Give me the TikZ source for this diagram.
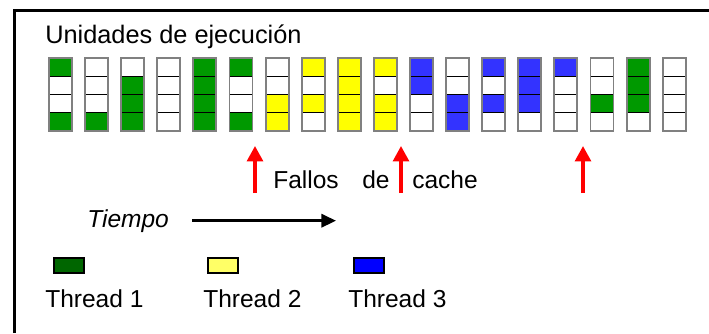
\documentclass[tikz,border=0pt]{standalone}
\usepackage{fontspec}
\setmainfont{Liberation Sans}
\usetikzlibrary{arrows.meta}
% cell fills
\definecolor{cG}{HTML}{009900}
\definecolor{cY}{HTML}{FFFF00}
\definecolor{cB}{HTML}{3333FF}
\definecolor{cW}{HTML}{FFFFFF}
% legend fills
\definecolor{lgreen}{HTML}{006600}
\definecolor{lyellow}{HTML}{FFFF66}
\definecolor{lblue}{HTML}{0000FF}
\definecolor{colframe}{HTML}{808080}
\definecolor{missred}{HTML}{FF0000}

\begin{document}
\begin{tikzpicture}[x=0.75pt,y=-0.75pt,
  lbl/.style={inner sep=0pt, anchor=base west, font=\fontsize{18.4}{22}\selectfont},
  cell/.style={draw=black, line width=1.1pt, minimum width=17.25pt,
    minimum height=13.69pt, inner sep=0pt, outer sep=0pt, anchor=north west},
  colbox/.style={draw=colframe, line width=1.4pt},
  missarrow/.style={draw=missred, line width=2.6pt,
    -{Triangle[length=11.5pt,width=11.8pt]}},
  timearrow/.style={draw=black, line width=1.9pt,
    -{Triangle[length=11pt,width=10pt]}},
  legbox/.style={draw=black, line width=0.8pt, minimum width=22.5pt,
    minimum height=11.25pt, inner sep=0pt}]

\useasboundingbox (0,0) rectangle (709,333);

% outer frame (left and top edges)
\draw[line width=2.25pt] (14,333) -- (14,10) -- (709,10);

\node[lbl, font=\fontsize{19}{23}\selectfont] (title) at (45,43) {Unidades de ejecución};

% execution units: one column per cycle, four slots each
\foreach \i/\a/\b/\c/\d in {
  0/G/W/W/G, 1/W/W/W/G, 2/W/G/G/G, 3/W/W/W/W, 4/G/G/G/G, 5/G/W/W/G,
  6/W/W/Y/Y, 7/Y/W/Y/W, 8/Y/Y/Y/Y, 9/Y/W/Y/Y, 10/B/B/W/W, 11/W/W/B/B,
  12/B/W/B/W, 13/B/B/B/W, 14/B/W/W/W, 15/W/W/G/W, 16/G/G/G/W, 17/W/W/W/W}{
  \foreach \j/\k in {1/\a,2/\b,3/\c,4/\d}{
    \node[cell, fill=c\k] (c-\i-\j) at ({49+36.1*\i},{58+18.25*(\j-1)}) {};
  }
  \draw[colbox] (c-\i-1.north west) rectangle (c-\i-4.south east);
}

% cache misses
\coordinate (m1b) at (255,193);
\coordinate (m1t) at (255,146);
\coordinate (m2b) at (401,193);
\coordinate (m2t) at (401,146);
\coordinate (m3b) at (583,193);
\coordinate (m3t) at (583,146);
\draw[missarrow] (m1b) -- (m1t);
\draw[missarrow] (m2b) -- (m2t);
\draw[missarrow] (m3b) -- (m3t);

\node[lbl] (w1) at (273,188) {Fallos};
\node[lbl] (w2) at (362,188) {de};
\node[lbl] (w3) at (412,188) {cache};

% time axis
\node[lbl, font=\fontsize{18.4}{22}\selectfont\itshape] (tiempo) at (87,227) {Tiempo};
\coordinate (ts) at (192,220.7);
\coordinate (te) at (336,220.7);
\draw[timearrow] (ts) -- (te);

% legend
\node[legbox, fill=lgreen] (k1) at (69,265.5) {};
\node[legbox, fill=lyellow] (k2) at (223,265.5) {};
\node[legbox, fill=lblue] (k3) at (369,265.5) {};
\node[lbl] (t1) at (45,307) {Thread 1};
\node[lbl] (t2) at (203,307) {Thread 2};
\node[lbl] (t3) at (348,307) {Thread 3};

\end{tikzpicture}
\end{document}
